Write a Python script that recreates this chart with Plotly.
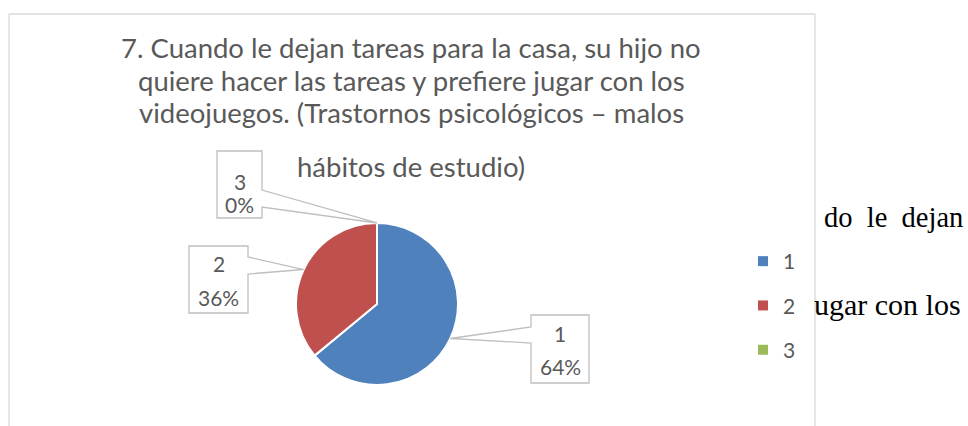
import math
import plotly.graph_objects as go

# ---------------- data ----------------
categories = ["1", "2", "3"]
values = [64, 36, 0]
colors = ["#4F81BD", "#C0504D", "#9BBB59"]
title_lines = [
    "7. Cuando le dejan tareas para la casa, su hijo no",
    "quiere hacer las tareas y prefiere jugar con los",
    "videojuegos. (Trastornos psicológicos – malos",
    "hábitos de estudio)",
]
side_text = ["do&nbsp;&nbsp;le&nbsp;&nbsp;dejan", "ugar con los"]

# ---------------- layout helpers ----------------
W, H = 968, 426
def px(x):
    return x / W
def py(y):
    return 1 - y / H

FONT = "Lato"
GREY = "#595959"
BOX = "#BFBFBF"

cx, cy, R = 377, 304, 81  # pie centre / radius in px

fig = go.Figure()
fig.add_trace(go.Pie(
    labels=categories, values=values, sort=False, direction="clockwise", rotation=0,
    marker=dict(colors=colors, line=dict(color="white", width=2)),
    textinfo="none", showlegend=False, hoverinfo="label+percent",
    domain=dict(x=[px(cx - R), px(cx + R)], y=[py(cy + R), py(cy - R)]),
))

# legend entries
for cat, col in zip(categories, colors):
    fig.add_trace(go.Scatter(
        x=[None], y=[None], mode="markers", name=cat, legendgroup=cat,
        marker=dict(symbol="square", size=10, color=col), hoverinfo="skip",
    ))

# callout boxes (style/positions)
boxes = [
    dict(x0=531, y0=315, x1=589, y1=383, side="left", b=(327, 343), ly=(333, 366)),
    dict(x0=189, y0=246, x1=248, y1=313, side="right", b=(257, 274), ly=(263, 297)),
    dict(x0=217, y0=151, x1=262, y1=218, side="right", b=(190, 207), ly=(181, 204)),
]

total = sum(values)
shapes = []
annotations = []
cum = 0
for cat, v, bx in zip(categories, values, boxes):
    mid = (cum + v / 2) / total * 2 * math.pi
    cum += v
    tx = cx + R * math.sin(mid)
    ty = cy - R * math.cos(mid)
    x0, y0, x1, y1 = bx["x0"], bx["y0"], bx["x1"], bx["y1"]
    ba, bb = bx["b"]
    if bx["side"] == "left":
        pts = [(x0, y0), (x1, y0), (x1, y1), (x0, y1), (x0, bb), (tx, ty), (x0, ba)]
    else:
        pts = [(x0, y0), (x1, y0), (x1, ba), (tx, ty), (x1, bb), (x1, y1), (x0, y1)]
    path = "M " + " L ".join(f"{px(a):.5f},{py(b):.5f}" for a, b in pts) + " Z"
    shapes.append(dict(type="path", xref="paper", yref="paper", path=path,
                       fillcolor="white", line=dict(color=BOX, width=1.3), layer="above"))
    pct = round(v / total * 100)
    for txt, yy in zip([cat, f"{pct}%"], bx["ly"]):
        annotations.append(dict(x=px((x0 + x1) / 2), y=py(yy), xref="paper", yref="paper",
                                text=txt, showarrow=False, xanchor="center", yanchor="middle",
                                font=dict(family=FONT, size=21, color=GREY)))

# title lines
for txt, yy in zip(title_lines, [47, 80, 113, 166]):
    annotations.append(dict(x=px(411), y=py(yy), xref="paper", yref="paper", text=txt,
                            showarrow=False, xanchor="center", yanchor="middle",
                            font=dict(family=FONT, size=27.5, color=GREY)))

# surrounding document text (serif)
for txt, xx, yy, fs in zip(side_text, [822, 812], [217, 304], [28.5, 30]):
    annotations.append(dict(x=px(xx), y=py(yy), xref="paper", yref="paper", text=txt,
                            showarrow=False, xanchor="left", yanchor="middle",
                            font=dict(family="Liberation Serif", size=fs, color="black")))

# chart area border
bc = "#D9D9D9"
shapes += [
    dict(type="line", xref="paper", yref="paper", x0=px(9), x1=px(815), y0=py(14), y1=py(14), line=dict(color=bc, width=1.3)),
    dict(type="line", xref="paper", yref="paper", x0=px(9), x1=px(9), y0=py(14), y1=py(440), line=dict(color=bc, width=1.3)),
    dict(type="line", xref="paper", yref="paper", x0=px(815), x1=px(815), y0=py(14), y1=py(440), line=dict(color=bc, width=1.3)),
]

fig.update_layout(
    width=W, height=H, margin=dict(l=0, r=0, t=0, b=0),
    paper_bgcolor="white", plot_bgcolor="white",
    xaxis=dict(visible=False), yaxis=dict(visible=False),
    shapes=shapes, annotations=annotations,
    legend=dict(x=px(743), y=py(241), xanchor="left", yanchor="top",
                font=dict(family=FONT, size=21, color=GREY), tracegroupgap=14,
                itemwidth=30, bgcolor="rgba(0,0,0,0)"),
    showlegend=True,
)

fig.write_html("out.html", config={"displayModeBar": False},
               post_script="document.body.style.margin='0';document.body.style.overflow='hidden';")
